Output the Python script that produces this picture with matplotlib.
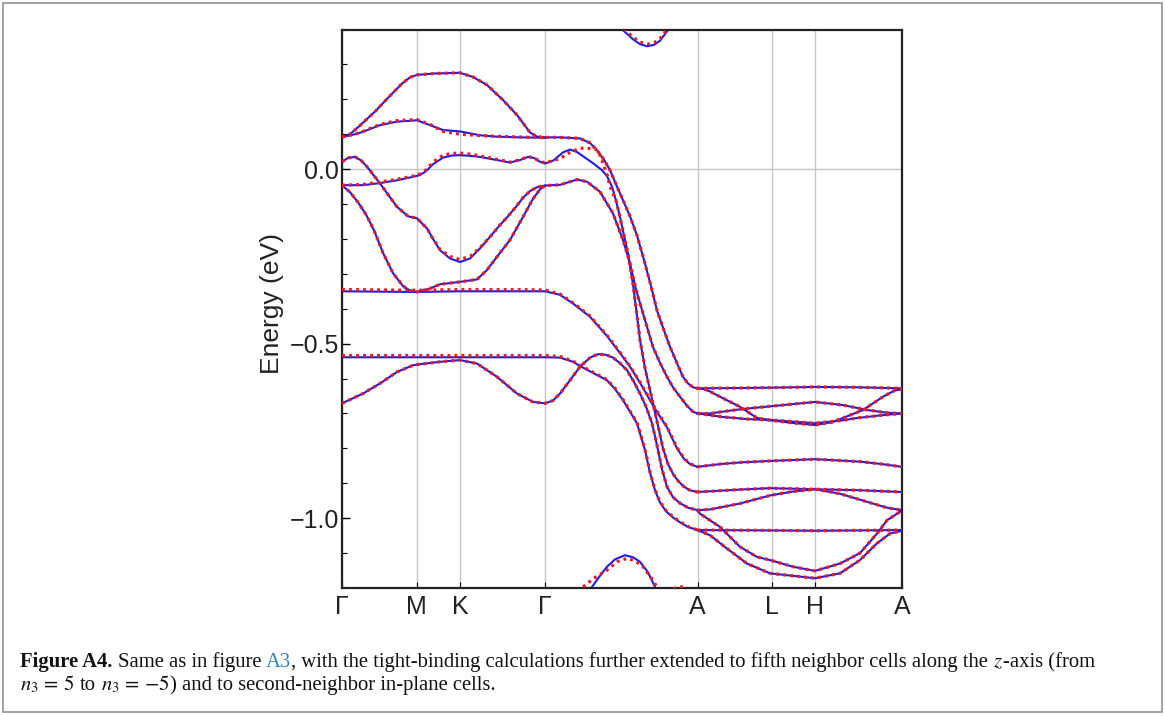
import matplotlib
matplotlib.use("Agg")
import matplotlib.pyplot as plt
from matplotlib.patches import Rectangle
from matplotlib.ticker import MultipleLocator, FuncFormatter

plt.rcParams['font.family'] = ['Liberation Sans', 'DejaVu Sans']
plt.rcParams['mathtext.fontset'] = 'stix'

# ---------------- data ----------------
kpoint_labels = ['Γ', 'M', 'K', 'Γ', 'A', 'L', 'H', 'A']
kpoint_pos = [0.0, 0.747, 1.18, 2.03, 3.555, 4.30, 4.73, 5.60]

y_ticks = [-1.0, -0.5, 0.0]
y_label = 'Energy (eV)'

# blue (full) bands: (k, E)
band_a_k = [0, 0.08, 0.18, 0.33, 0.48, 0.60, 0.68, 0.75, 0.93, 1.18, 1.31, 1.45, 1.61, 1.75, 1.88, 1.95, 2.03,
            2.18, 2.38, 2.48, 2.55, 2.62, 2.68, 2.75, 2.81, 2.88, 2.95, 3.02, 3.09, 3.15, 3.22, 3.28, 3.35, 3.41,
            3.46, 3.51, 3.555]
band_a_e = [0.092, 0.100, 0.125, 0.165, 0.210, 0.245, 0.263, 0.270, 0.274, 0.276, 0.264, 0.241, 0.198, 0.155,
            0.105, 0.093, 0.091, 0.091, 0.088, 0.075, 0.054, 0.027, -0.003, -0.050, -0.089, -0.135, -0.190,
            -0.260, -0.335, -0.405, -0.462, -0.509, -0.556, -0.595, -0.614, -0.625, -0.628]

band_b_k = [0, 0.13, 0.21, 0.38, 0.55, 0.75, 0.88, 1.01, 1.18, 1.38, 1.55, 1.78, 2.03]
band_b_e = [0.092, 0.100, 0.107, 0.126, 0.136, 0.140, 0.126, 0.112, 0.108, 0.097, 0.093, 0.091, 0.090]
band_b_red_e = [0.092, 0.100, 0.108, 0.128, 0.139, 0.142, 0.128, 0.108, 0.100, 0.096, 0.094, 0.092, 0.090]

band_c_k = [0, 0.06, 0.13, 0.19, 0.25, 0.38, 0.55, 0.66, 0.75, 0.85, 0.91, 0.98, 1.08, 1.18, 1.28, 1.38, 1.48,
            1.58, 1.66, 1.74, 1.81, 1.88, 1.95, 2.03]
band_c_e = [0.021, 0.032, 0.035, 0.025, 0.007, -0.041, -0.108, -0.135, -0.141, -0.170, -0.200, -0.232, -0.256,
            -0.266, -0.256, -0.227, -0.194, -0.160, -0.135, -0.108, -0.082, -0.063, -0.052, -0.047]
band_c_red_e = [0.021, 0.032, 0.035, 0.025, 0.007, -0.041, -0.108, -0.135, -0.141, -0.170, -0.200, -0.230,
                -0.250, -0.259, -0.250, -0.225, -0.194, -0.160, -0.135, -0.108, -0.082, -0.063, -0.052, -0.047]

band_d_k = [0, 0.21, 0.38, 0.55, 0.71, 0.78, 0.84, 0.91, 1.01, 1.10, 1.18, 1.28, 1.38, 1.55, 1.68, 1.78, 1.86,
            1.92, 1.98, 2.03, 2.11, 2.21, 2.28, 2.35, 2.43, 2.51, 2.60, 2.65, 2.70, 2.74, 2.78, 2.82, 2.86, 2.91,
            2.95, 2.98, 3.03, 3.08, 3.12, 3.16, 3.21, 3.26, 3.31, 3.36, 3.42, 3.48, 3.555]
band_d_e = [-0.046, -0.046, -0.040, -0.032, -0.022, -0.017, -0.006, 0.014, 0.033, 0.039, 0.040, 0.038, 0.035,
            0.026, 0.019, 0.026, 0.035, 0.032, 0.021, 0.016, 0.024, 0.048, 0.056, 0.049, 0.033, 0.017, -0.003,
            -0.020, -0.050, -0.090, -0.137, -0.190, -0.242, -0.330, -0.420, -0.490, -0.570, -0.633, -0.685,
            -0.735, -0.800, -0.845, -0.873, -0.893, -0.910, -0.920, -0.925]
band_d_red_k = [0, 0.21, 0.38, 0.55, 0.71, 0.78, 0.84, 0.91, 1.01, 1.10, 1.18, 1.28, 1.38, 1.55, 1.68, 1.78,
                1.86, 1.92, 1.98, 2.03, 2.18, 2.28, 2.38, 2.53, 2.58, 2.61, 2.65, 2.68, 2.74, 2.78, 2.82, 2.86,
                2.91, 2.95, 2.98, 3.03, 3.08, 3.12, 3.16, 3.21, 3.26, 3.31, 3.36, 3.42, 3.48, 3.555]
band_d_red_e = [-0.046, -0.044, -0.037, -0.029, -0.020, -0.014, -0.002, 0.020, 0.040, 0.045, 0.046, 0.043,
                0.038, 0.028, 0.020, 0.027, 0.036, 0.032, 0.022, 0.018, 0.030, 0.048, 0.060, 0.059, 0.040,
                0.017, -0.015, -0.050, -0.090, -0.137, -0.190, -0.242, -0.330, -0.420, -0.490, -0.570, -0.633,
                -0.685, -0.735, -0.800, -0.845, -0.873, -0.893, -0.910, -0.920, -0.925]

band_dp_k = [0, 0.08, 0.16, 0.24, 0.32, 0.41, 0.51, 0.61, 0.68, 0.75, 0.88, 0.98, 1.18, 1.35, 1.45, 1.55, 1.68,
             1.81, 1.91, 1.98, 2.03, 2.18, 2.35, 2.45, 2.58, 2.71, 2.81, 2.88, 2.94, 3.01, 3.11, 3.18, 3.25,
             3.31, 3.38, 3.45, 3.51, 3.555]
band_dp_e = [-0.046, -0.066, -0.095, -0.130, -0.175, -0.240, -0.298, -0.335, -0.348, -0.352, -0.342, -0.330,
             -0.323, -0.316, -0.289, -0.251, -0.203, -0.137, -0.085, -0.058, -0.047, -0.045, -0.030, -0.036,
             -0.065, -0.127, -0.203, -0.270, -0.345, -0.413, -0.510, -0.555, -0.595, -0.625, -0.652, -0.678,
             -0.695, -0.700]

band_e_k = [0, 0.38, 0.75, 1.18, 1.58, 2.03, 2.18, 2.31, 2.48, 2.65, 2.78, 2.88, 2.98, 3.08, 3.16, 3.25, 3.35,
            3.42, 3.48, 3.555]
band_e_e = [-0.350, -0.351, -0.352, -0.350, -0.350, -0.350, -0.360, -0.385, -0.423, -0.478, -0.527, -0.566,
            -0.612, -0.662, -0.700, -0.740, -0.800, -0.830, -0.845, -0.853]
band_e_red_e = [-0.345, -0.346, -0.347, -0.345, -0.345, -0.346, -0.358, -0.383, -0.421, -0.476, -0.525,
                -0.564, -0.610, -0.660, -0.698, -0.738, -0.798, -0.828, -0.844, -0.853]

band_f_k = [0, 0.75, 1.18, 2.03, 2.18, 2.31, 2.38, 2.55, 2.65, 2.73, 2.81, 2.88, 2.95, 3.03, 3.08, 3.13, 3.18,
            3.24, 3.31, 3.38, 3.46, 3.555]
band_f_e = [-0.539, -0.539, -0.539, -0.539, -0.540, -0.552, -0.564, -0.590, -0.605, -0.630, -0.662, -0.695,
            -0.728, -0.805, -0.870, -0.920, -0.955, -0.980, -0.998, -1.012, -1.025, -1.034]
band_f_red_e = [-0.534, -0.534, -0.534, -0.534, -0.537, -0.550, -0.562, -0.588, -0.603, -0.628, -0.660,
                -0.693, -0.726, -0.803, -0.868, -0.918, -0.953, -0.978, -0.996, -1.010, -1.024, -1.034]

band_g_k = [0, 0.21, 0.38, 0.55, 0.71, 0.75, 0.98, 1.18, 1.35, 1.55, 1.75, 1.91, 2.03, 2.11, 2.18, 2.28, 2.38,
            2.48, 2.56, 2.64, 2.71, 2.78, 2.85, 2.92, 2.98, 3.04, 3.10, 3.13, 3.16, 3.20, 3.25, 3.31, 3.38,
            3.46, 3.555]
band_g_e = [-0.671, -0.643, -0.614, -0.581, -0.562, -0.560, -0.552, -0.547, -0.557, -0.595, -0.643, -0.667,
            -0.671, -0.663, -0.643, -0.605, -0.566, -0.540, -0.530, -0.532, -0.540, -0.556, -0.576, -0.610,
            -0.643, -0.680, -0.728, -0.765, -0.805, -0.860, -0.910, -0.940, -0.957, -0.970, -0.977]

band_top_k = [2.77, 2.81, 2.91, 2.98, 3.05, 3.12, 3.18, 3.26, 3.29]
band_top_e = [0.410, 0.398, 0.372, 0.358, 0.352, 0.356, 0.368, 0.398, 0.410]
band_top_red_e = [0.416, 0.404, 0.378, 0.364, 0.358, 0.362, 0.374, 0.404, 0.416]

band_bot_k = [2.47, 2.50, 2.58, 2.65, 2.73, 2.83, 2.91, 2.98, 3.06, 3.13, 3.16]
band_bot_e = [-1.215, -1.197, -1.165, -1.139, -1.118, -1.106, -1.112, -1.125, -1.155, -1.197, -1.215]
band_bot_red_k = [2.38, 2.41, 2.53, 2.65, 2.75, 2.85, 2.93, 3.01, 3.09, 3.15, 3.18]
band_bot_red_e = [-1.215, -1.197, -1.170, -1.149, -1.125, -1.115, -1.122, -1.139, -1.170, -1.197, -1.215]
band_bot2_red_k = [3.26, 3.35, 3.41, 3.50]
band_bot2_red_e = [-1.215, -1.197, -1.197, -1.215]

# A-L-H-A bands
al1_k = [3.555, 4.0, 4.30, 4.73, 5.15, 5.60]
al1_e = [-0.628, -0.627, -0.626, -0.624, -0.625, -0.628]
al2_k = [3.555, 3.62, 3.68, 3.80, 3.98, 4.15, 4.30, 4.50, 4.73, 4.90, 5.01, 5.21, 5.41, 5.52, 5.60]
al2_e = [-0.628, -0.630, -0.637, -0.655, -0.681, -0.713, -0.720, -0.727, -0.733, -0.725, -0.713, -0.690,
         -0.652, -0.635, -0.630]
al3_k = [3.555, 3.68, 3.98, 4.30, 4.73, 5.01, 5.25, 5.45, 5.60]
al3_e = [-0.700, -0.700, -0.688, -0.679, -0.667, -0.676, -0.690, -0.698, -0.700]
al4_k = [3.555, 3.81, 4.05, 4.30, 4.73, 5.00, 5.15, 5.40, 5.60]
al4_e = [-0.700, -0.710, -0.716, -0.719, -0.728, -0.720, -0.713, -0.705, -0.700]
al5_k = [3.555, 3.78, 4.00, 4.28, 4.73, 5.18, 5.40, 5.60]
al5_e = [-0.853, -0.845, -0.840, -0.836, -0.831, -0.838, -0.845, -0.853]
al6_k = [3.555, 3.98, 4.28, 4.73, 5.18, 5.60]
al6_e = [-0.925, -0.918, -0.914, -0.917, -0.920, -0.925]
al7_k = [3.555, 3.68, 3.98, 4.28, 4.50, 4.73, 4.98, 5.25, 5.45, 5.60]
al7_e = [-0.977, -0.975, -0.958, -0.935, -0.924, -0.917, -0.930, -0.953, -0.970, -0.977]
al8_k = [3.555, 3.58, 3.78, 3.98, 4.15, 4.28, 4.51, 4.73, 4.98, 5.18, 5.35, 5.45, 5.60]
al8_e = [-0.977, -0.987, -1.025, -1.082, -1.111, -1.120, -1.139, -1.151, -1.130, -1.100, -1.044, -1.006,
         -0.978]
al9_k = [3.555, 4.30, 4.73, 5.60]
al9_e = [-1.034, -1.035, -1.036, -1.034]
al10_k = [3.555, 3.68, 3.85, 4.05, 4.28, 4.73, 4.98, 5.18, 5.35, 5.48, 5.60]
al10_e = [-1.034, -1.049, -1.087, -1.130, -1.158, -1.172, -1.158, -1.120, -1.072, -1.044, -1.036]

blue_bands = [
    (band_a_k, band_a_e), (band_b_k, band_b_e), (band_c_k, band_c_e), (band_d_k, band_d_e),
    (band_dp_k, band_dp_e), (band_e_k, band_e_e), (band_f_k, band_f_e), (band_g_k, band_g_e),
    (band_top_k, band_top_e), (band_bot_k, band_bot_e),
    (al1_k, al1_e), (al2_k, al2_e), (al3_k, al3_e), (al4_k, al4_e), (al5_k, al5_e),
    (al6_k, al6_e), (al7_k, al7_e), (al8_k, al8_e), (al9_k, al9_e), (al10_k, al10_e),
]
red_bands = [
    (band_a_k, band_a_e), (band_b_k, band_b_red_e), (band_c_k, band_c_red_e), (band_d_red_k, band_d_red_e),
    (band_dp_k, band_dp_e), (band_e_k, band_e_red_e), (band_f_k, band_f_red_e), (band_g_k, band_g_e),
    (band_top_k, band_top_red_e), (band_bot_red_k, band_bot_red_e), (band_bot2_red_k, band_bot2_red_e),
    (al1_k, al1_e), (al2_k, al2_e), (al3_k, al3_e), (al4_k, al4_e), (al5_k, al5_e),
    (al6_k, al6_e), (al7_k, al7_e), (al8_k, al8_e), (al9_k, al9_e), (al10_k, al10_e),
]

# ---------------- figure ----------------
W, H = 1165, 716
fig = plt.figure(figsize=(W / 100, H / 100), dpi=100)
ax_l, ax_r, ax_t, ax_b = 342, 902, 29.5, 588
ax = fig.add_axes([ax_l / W, 1 - ax_b / H, (ax_r - ax_l) / W, (ax_b - ax_t) / H])

for kp in kpoint_pos:
    ax.axvline(kp, color='#c6c6c6', lw=1.0, zorder=0)
ax.axhline(0.0, color='#c6c6c6', lw=1.0, zorder=0)

for k, e in blue_bands:
    ax.plot(k, e, color='#1c1cf0', lw=1.5, solid_joinstyle='round', zorder=2)
for k, e in red_bands:
    ax.plot(k, e, color='#f01818', lw=2.3, linestyle=(0, (0.9, 1.3)), zorder=3)

ax.set_xlim(kpoint_pos[0], kpoint_pos[-1])
ax.set_ylim(-1.2, 0.4)
ax.set_xticks(kpoint_pos)
ax.set_xticklabels(kpoint_labels)
ax.set_yticks(y_ticks)
ax.yaxis.set_minor_locator(MultipleLocator(0.1))
ax.yaxis.set_major_formatter(FuncFormatter(lambda v, p: ('%.1f' % v).replace('-', '\u2212')))
ax.tick_params(axis='y', which='major', direction='in', length=6, width=1.0, labelsize=18,
               pad=2, right=False, labelcolor='#222222')
ax.tick_params(axis='y', which='minor', direction='in', length=3.5, width=0.8, right=False)
ax.tick_params(axis='x', which='major', direction='in', length=4, width=0.8, labelsize=18,
               pad=5, top=False, labelcolor='#222222')
for s in ax.spines.values():
    s.set_linewidth(1.6)
    s.set_color('#222222')

fig.text(272 / W, 1 - 303 / H, y_label, rotation=90, ha='center', va='center', fontsize=19,
         color='#222222')

# outer frame
fig.patches.append(Rectangle((2.5 / W, 4 / H), (1162 - 2.5) / W, (713 - 4) / H, transform=fig.transFigure,
                             fill=False, ec='#9a9a9a', lw=1.3))

# ---------------- caption ----------------
renderer = fig.canvas.get_renderer()
serif = 'Liberation Serif'
line1 = [("Figure A4.", dict(weight='bold')), (" Same as in figure ", {}), ("A3", dict(color='#2e86c1')),
         (", with the tight-binding calculations further extended to fifth neighbor cells along the ", {}),
         ("$z$", {}), ("-axis (from", {})]
line2 = [("$n_3\\,=\\,5$", {}), (" to ", {}), ("$n_3\\,=\\,{-}5$", {}),
         (") and to second-neighbor in-plane cells.", {})]


def width_of(s, size, props):
    t = fig.text(0, 0, s, fontsize=size, family=serif, **props)
    w = t.get_window_extent(renderer).width
    t.remove()
    return w


def space_w(size, props):
    return width_of("x x", size, props) - width_of("xx", size, props)


def run_width(runs, size):
    total = 0
    for s, props in runs:
        st = s.strip(' ')
        nl = len(s) - len(s.lstrip(' '))
        nt = len(s) - len(s.rstrip(' '))
        sw = space_w(size, props)
        total += width_of(st, size, props) + (nl + nt) * sw
    return total


def draw_runs(runs, x0, ybase, size):
    x = x0
    for s, props in runs:
        st = s.strip(' ')
        nl = len(s) - len(s.lstrip(' '))
        nt = len(s) - len(s.rstrip(' '))
        sw = space_w(size, props)
        x += nl * sw
        t = fig.text(x / W, 1 - ybase / H, st, fontsize=size, family=serif, va='baseline', ha='left',
                     color=props.get('color', '#111111'),
                     **{k: v for k, v in props.items() if k != 'color'})
        x += t.get_window_extent(renderer).width + nt * sw


base = 12.0
w1 = run_width(line1, base)
size = base * (1078 / w1)
draw_runs(line1, 20, 667, size)
draw_runs(line2, 20, 690, size)

fig.savefig('out.png', dpi=100)
